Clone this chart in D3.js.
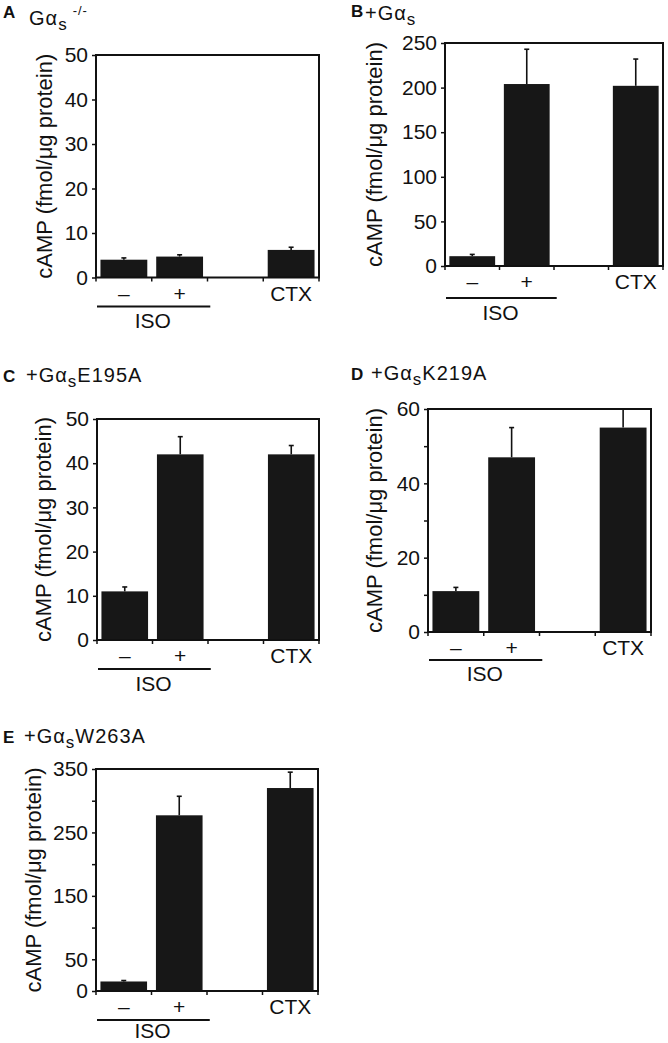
<!DOCTYPE html>
<html>
<head>
<meta charset="utf-8">
<script src="https://cdn.jsdelivr.net/npm/d3@7"></script>
<style>
  html, body { margin: 0; padding: 0; background: #fff; }
  svg { display: block; font-family: "Liberation Sans", Arial, Helvetica, sans-serif; }
</style>
</head>
<body>
<svg id="chart" width="668" height="1043"></svg>
<script>
// ---------------- data ----------------
const categoryKeys = ["minus", "plus", "blank", "ctx"];
const categoryLabels = ["\u2013", "+", "", "CTX"];
const groupLabel = "ISO";
const yAxisLabel = "cAMP (fmol/\u03bcg protein)";

const panelLetters = ["A", "B", "C", "D", "E"];
const titleMain = ["G\u03b1", "+G\u03b1", "+G\u03b1", "+G\u03b1", "+G\u03b1"];
const titleSub = ["S", "S", "S", "S", "S"];
const titleSuffix = ["", "", "E195A", "K219A", "W263A"];
const titleSup = ["-/-", "", "", "", ""];

const valuesA = [4.0, 4.7, null, 6.2];
const errorsA = [0.4, 0.4, null, 0.6];
const valuesB = [11, 204, null, 202];
const errorsB = [2, 39, null, 30];
const valuesC = [11, 42, null, 42];
const errorsC = [1, 4, null, 2];
const valuesD = [11, 47, null, 55];
const errorsD = [1, 8, null, 5];
const valuesE = [15, 277, null, 320];
const errorsE = [1.5, 30, null, 25];

const yMaxA = 50, yMaxB = 250, yMaxC = 50, yMaxD = 60, yMaxE = 350;
const ticksA = [0, 10, 20, 30, 40, 50];
const ticksB = [0, 50, 100, 150, 200, 250];
const ticksC = [0, 10, 20, 30, 40, 50];
const ticksD = [0, 20, 40, 60];
const minorD = [10, 30, 50];
const ticksE = [0, 50, 150, 250, 350];
const minorE = [100, 200, 300];

// ---------------- layout ----------------
const panels = [
  { values: valuesA, errors: errorsA, yMax: yMaxA, ticks: ticksA, minor: [],
    x0: 96, x1: 319, y0: 55, y1: 277.5, lx: 3, ly: 18, tx: 29, ty: 25, ylabOff: 52, isoOff: 29, isoLab: 50 },
  { values: valuesB, errors: errorsB, yMax: yMaxB, ticks: ticksB, minor: [],
    x0: 445, x1: 663, y0: 43, y1: 266, lx: 351, ly: 17, tx: 365, ty: 20, ylabOff: 71, isoOff: 32, isoLab: 54 },
  { values: valuesC, errors: errorsC, yMax: yMaxC, ticks: ticksC, minor: [],
    x0: 97, x1: 319, y0: 419, y1: 640, lx: 3, ly: 382, tx: 26, ty: 382, ylabOff: 54, isoOff: 29, isoLab: 51 },
  { values: valuesD, errors: errorsD, yMax: yMaxD, ticks: ticksD, minor: minorD,
    x0: 428, x1: 651, y0: 409, y1: 632, lx: 351, ly: 380, tx: 371, ty: 380, ylabOff: 54, isoOff: 28, isoLab: 49 },
  { values: valuesE, errors: errorsE, yMax: yMaxE, ticks: ticksE, minor: minorE,
    x0: 96, x1: 318, y0: 769, y1: 991, lx: 3, ly: 743, tx: 24, ty: 743, ylabOff: 63, isoOff: 29, isoLab: 47 }
];

const svg = d3.select("#chart");
const ink = "#111";
const barFill = "#171717";

panels.forEach((p, i) => {
  const g = svg.append("g");
  const x = d3.scaleBand().domain(categoryKeys).range([p.x0, p.x1])
    .paddingInner(0.16).paddingOuter(0.08);
  const y = d3.scaleLinear().domain([0, p.yMax]).range([p.y1, p.y0]);

  // title
  g.append("text").attr("x", p.lx).attr("y", p.ly)
    .attr("font-size", 17).attr("font-weight", "bold").attr("fill", ink)
    .text(panelLetters[i]);
  const tt = g.append("text").attr("x", p.tx).attr("y", p.ty)
    .attr("font-size", 20).attr("fill", ink).attr("letter-spacing", 1);
  tt.append("tspan").text(titleMain[i]);
  tt.append("tspan").attr("font-size", 17).attr("dy", 5).text(titleSub[i].toLowerCase());
  if (titleSuffix[i]) tt.append("tspan").attr("dy", -5).text(titleSuffix[i]);
  if (titleSup[i]) tt.append("tspan").attr("font-size", 13).attr("dx", 5).attr("dy", -15).text(titleSup[i]);

  const data = categoryKeys.map((k, j) => ({ k, v: p.values[j], e: p.errors[j] }))
    .filter(d => d.v != null);

  // error bars (upward only)
  const eg = g.append("g").attr("stroke", ink).attr("stroke-width", 1.6);
  data.forEach(d => {
    const cx = x(d.k) + x.bandwidth() / 2;
    const top = Math.min(d.v + d.e, p.yMax);
    eg.append("line").attr("x1", cx).attr("x2", cx).attr("y1", y(d.v)).attr("y2", y(top));
    if (d.v + d.e < p.yMax) {
      eg.append("line").attr("x1", cx - 2.5).attr("x2", cx + 2.5).attr("y1", y(top)).attr("y2", y(top));
    }
  });

  // bars
  g.append("g").selectAll("rect").data(data).join("rect")
    .attr("x", d => x(d.k)).attr("width", x.bandwidth())
    .attr("y", d => y(d.v)).attr("height", d => y(0) - y(d.v))
    .attr("fill", barFill);

  // y axis
  const yAxis = d3.axisLeft(y).tickValues(p.ticks).tickSize(4).tickPadding(4)
    .tickFormat(d3.format("d"));
  const ya = g.append("g").attr("transform", `translate(${p.x0},0)`).call(yAxis);
  ya.select(".domain").remove();
  ya.selectAll("line").attr("stroke", ink).attr("stroke-width", 1.5);
  ya.selectAll("text").attr("font-size", 21).attr("fill", ink)
    .attr("font-family", "Liberation Sans, Arial, sans-serif");
  if (p.minor.length) {
    const ym = d3.axisLeft(y).tickValues(p.minor).tickSize(4).tickFormat("");
    const ymg = g.append("g").attr("transform", `translate(${p.x0},0)`).call(ym);
    ymg.select(".domain").remove();
    ymg.selectAll("line").attr("stroke", ink).attr("stroke-width", 1.5);
  }

  // x axis ticks at slot boundaries
  const slot = (p.x1 - p.x0) / categoryKeys.length;
  const bounds = d3.range(categoryKeys.length + 1).map(j => p.x0 + j * slot);
  g.append("g").selectAll("line").data(bounds).join("line")
    .attr("x1", d => d).attr("x2", d => d)
    .attr("y1", p.y1).attr("y2", p.y1 + 4)
    .attr("stroke", ink).attr("stroke-width", 1.5);

  // category labels
  g.append("g").selectAll("text").data(categoryKeys.map((k, j) => ({ k, l: categoryLabels[j] })))
    .join("text")
    .attr("x", d => x(d.k) + x.bandwidth() / 2).attr("y", p.y1 + 23)
    .attr("text-anchor", "middle").attr("font-size", 21).attr("fill", ink)
    .text(d => d.l);

  // frame
  g.append("rect").attr("x", p.x0).attr("y", p.y0)
    .attr("width", p.x1 - p.x0).attr("height", p.y1 - p.y0)
    .attr("fill", "none").attr("stroke", ink).attr("stroke-width", 2);

  // y label
  g.append("text")
    .attr("transform", `translate(${p.x0 - p.ylabOff},${(p.y0 + p.y1) / 2}) rotate(-90)`)
    .attr("text-anchor", "middle").attr("dy", "0.35em")
    .attr("font-size", 22).attr("fill", ink)
    .text(yAxisLabel);

  // ISO group line and label
  g.append("line")
    .attr("x1", p.x0 + 1).attr("x2", p.x0 + slot * 2.05)
    .attr("y1", p.y1 + p.isoOff).attr("y2", p.y1 + p.isoOff)
    .attr("stroke", ink).attr("stroke-width", 2);
  g.append("text")
    .attr("x", p.x0 + slot * 1.02).attr("y", p.y1 + p.isoLab)
    .attr("text-anchor", "middle").attr("font-size", 21).attr("fill", ink)
    .text(groupLabel);
});
</script>
</body>
</html>
